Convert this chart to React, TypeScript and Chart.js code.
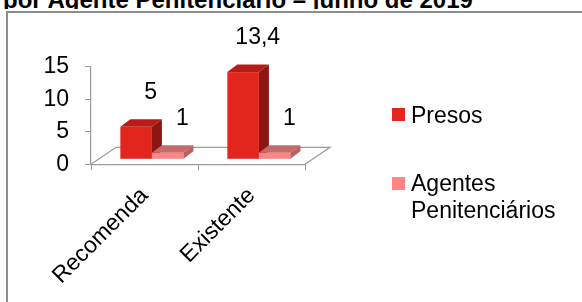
import React, { useEffect, useRef } from 'react';
import { Chart, registerables } from 'chart.js';

Chart.register(...registerables);

const categories = ['Recomenda', 'Existente'];
const seriesNames = ['Presos', 'Agentes Penitenciários'];
const presos = [5, 13.4];
const agentes = [1, 1];
const yTicks = [0, 5, 10, 15];
const titleText = 'por Agente Penitenciário – junho de 2019';

const FONT = "'Liberation Sans', Arial, sans-serif";
const TEXT_SIZE = 23;
const faceColors = [
  { front: '#E2261E', top: '#B81C16', side: '#8E1612' },
  { front: '#FF8585', top: '#C86868', side: '#BE5E5E' },
];
const SHIFT = { x: 7.4, y: -5 };
const DEPTH = { x: 10, y: -7.5 };
const FLOOR = { x: 25, y: -17 };
const AXIS_GREY = '#9a9a9a';

const fmt = (v: number) => String(v).replace('.', ',');

const bars3d = {
  id: 'bars3d',
  beforeDatasetsDraw(chart: any) {
    const { ctx, chartArea } = chart;
    const { left, right, bottom } = chartArea;
    ctx.save();
    ctx.strokeStyle = AXIS_GREY;
    ctx.lineWidth = 1.2;
    ctx.beginPath();
    ctx.moveTo(left, bottom);
    ctx.lineTo(left + FLOOR.x, bottom + FLOOR.y);
    ctx.lineTo(right + FLOOR.x, bottom + FLOOR.y);
    ctx.lineTo(right, bottom);
    ctx.stroke();
    ctx.restore();
  },
  beforeDatasetDraw() {
    return false;
  },
  afterDatasetsDraw(chart: any) {
    const ctx = chart.ctx;
    const n = chart.data.labels.length;
    ctx.save();
    for (let i = 0; i < n; i++) {
      chart.data.datasets.forEach((ds: any, di: number) => {
        const el = chart.getDatasetMeta(di).data[i];
        const { x, y, base, width } = el.getProps(['x', 'y', 'base', 'width'], true);
        const x0 = x - width / 2 + SHIFT.x;
        const x1 = x + width / 2 + SHIFT.x;
        const yt = y + SHIFT.y;
        const yb = base + SHIFT.y;
        const c = faceColors[di];
        ctx.fillStyle = c.front;
        ctx.fillRect(x0, yt, x1 - x0, yb - yt);
        ctx.fillStyle = c.top;
        ctx.beginPath();
        ctx.moveTo(x0, yt);
        ctx.lineTo(x0 + DEPTH.x, yt + DEPTH.y);
        ctx.lineTo(x1 + DEPTH.x, yt + DEPTH.y);
        ctx.lineTo(x1, yt);
        ctx.closePath();
        ctx.fill();
        ctx.fillStyle = c.side;
        ctx.beginPath();
        ctx.moveTo(x1, yt);
        ctx.lineTo(x1 + DEPTH.x, yt + DEPTH.y);
        ctx.lineTo(x1 + DEPTH.x, yb + DEPTH.y);
        ctx.lineTo(x1, yb);
        ctx.closePath();
        ctx.fill();
      });
    }
    // data labels
    ctx.fillStyle = '#000';
    ctx.font = `${TEXT_SIZE}px ${FONT}`;
    ctx.textAlign = 'center';
    ctx.textBaseline = 'middle';
    chart.data.datasets.forEach((ds: any, di: number) => {
      chart.getDatasetMeta(di).data.forEach((el: any, i: number) => {
        const { x, y } = el.getProps(['x', 'y'], true);
        ctx.fillText(fmt(ds.data[i]), x + 22, y - 39);
      });
    });
    ctx.restore();
  },
};

export default function App() {
  const ref = useRef<HTMLCanvasElement | null>(null);

  useEffect(() => {
    if (!ref.current) return;
    const tickFont = { family: FONT, size: TEXT_SIZE };
    const chart = new Chart(ref.current, {
      type: 'bar',
      data: {
        labels: categories,
        datasets: [
          { label: seriesNames[0], data: presos, backgroundColor: faceColors[0].front, categoryPercentage: 0.59, barPercentage: 1 },
          { label: seriesNames[1], data: agentes, backgroundColor: faceColors[1].front, categoryPercentage: 0.59, barPercentage: 1 },
        ],
      },
      options: {
        responsive: false,
        animation: false,
        devicePixelRatio: 1,
        layout: { padding: { top: 66.7, right: 277, bottom: 0, left: 0 } },
        scales: {
          x: {
            grid: { display: true, drawOnChartArea: false, tickLength: 6, color: AXIS_GREY, offset: true },
            border: { display: true, color: AXIS_GREY, width: 1.2 },
            ticks: { font: tickFont, color: '#000', maxRotation: 45, minRotation: 45, padding: 12, autoSkip: false },
            afterFit: (s: any) => { s.height = 302 - 164.3; },
          },
          y: {
            min: yTicks[0],
            max: yTicks[yTicks.length - 1],
            afterBuildTicks: (s: any) => { s.ticks = yTicks.map((v) => ({ value: v })); },
            ticks: { font: tickFont, color: '#000', padding: 16, callback: (v: any) => fmt(v) },
            grid: { drawOnChartArea: false, tickLength: 6, color: AXIS_GREY },
            border: { display: true, color: AXIS_GREY, width: 1.2 },
            afterFit: (s: any) => { s.width = 91; },
          },
        },
        plugins: { legend: { display: false }, tooltip: { enabled: false }, title: { display: false } },
      },
      plugins: [bars3d],
    });
    return () => chart.destroy();
  }, []);

  const legendText: React.CSSProperties = {
    position: 'absolute',
    font: `${TEXT_SIZE}px ${FONT}`,
    color: '#000',
    lineHeight: '27px',
    whiteSpace: 'nowrap',
  };

  return (
    <div style={{ position: 'absolute', left: 0, top: 0, width: 582, height: 302, overflow: 'hidden', background: '#fff' }}>
      <div style={{ position: 'absolute', left: 3, top: -12.3, font: `bold 24px ${FONT}`, lineHeight: '24px', whiteSpace: 'nowrap', color: '#000' }}>
        {titleText}
      </div>
      <div style={{ position: 'absolute', left: 0, top: 9, width: 582, height: 293, background: '#fff' }} />
      <div style={{ position: 'absolute', left: 6, top: 11, width: 600, height: 320, borderTop: '2px solid #8c8c8c', borderLeft: '2px solid #8c8c8c' }} />
      <canvas ref={ref} width={582} height={302} style={{ position: 'absolute', left: 0, top: 0, width: 582, height: 302 }} />
      <div style={{ position: 'absolute', left: 392, top: 108, width: 13, height: 13, background: faceColors[0].front }} />
      <div style={{ ...legendText, left: 411, top: 101.5 }}>{seriesNames[0]}</div>
      <div style={{ position: 'absolute', left: 392, top: 177, width: 13, height: 13, background: faceColors[1].front }} />
      <div style={{ ...legendText, left: 411, top: 169.5 }}>
        Agentes
        <br />
        Penitenciários
      </div>
    </div>
  );
}
